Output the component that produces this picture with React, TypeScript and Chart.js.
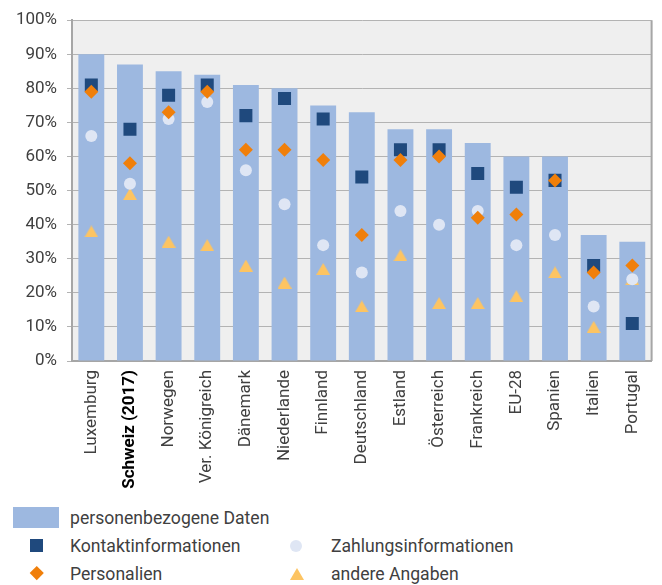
import React, { useEffect, useRef } from 'react';
import { Chart, registerables } from 'chart.js';

Chart.register(...registerables);

const categories = [
  'Luxemburg', 'Schweiz (2017)', 'Norwegen', 'Ver. Königreich', 'Dänemark',
  'Niederlande', 'Finnland', 'Deutschland', 'Estland', 'Österreich',
  'Frankreich', 'EU-28', 'Spanien', 'Italien', 'Portugal',
];
const personenbezogeneDaten = [90, 87, 85, 84, 81, 80, 75, 73, 68, 68, 64, 60, 60, 37, 35];
const kontaktinformationen = [81, 68, 78, 81, 72, 77, 71, 54, 62, 62, 55, 51, 53, 28, 11];
const zahlungsinformationen = [66, 52, 71, 76, 56, 46, 34, 26, 44, 40, 44, 34, 37, 16, 24];
const personalien = [79, 58, 73, 79, 62, 62, 59, 37, 59, 60, 42, 43, 53, 26, 28];
const andereAngaben = [38, 49, 35, 34, 28, 23, 27, 16, 31, 17, 17, 19, 26, 10, 24];
const yTickValues = [0, 10, 20, 30, 40, 50, 60, 70, 80, 90, 100];

const seriesNames = [
  'personenbezogene Daten',
  'Kontaktinformationen',
  'Zahlungsinformationen',
  'Personalien',
  'andere Angaben',
];

const C_BAR = '#9db8e0';
const C_SQUARE = '#1f497d';
const C_CIRCLE = '#dfe6f4';
const C_DIAMOND = '#f07f0a';
const C_TRIANGLE = '#fdc462';
const FONT = 'Roboto, "Noto Sans", sans-serif';

function makeTriangle(color: string) {
  const c = document.createElement('canvas');
  c.width = 14;
  c.height = 12;
  const ctx = c.getContext('2d')!;
  ctx.fillStyle = color;
  ctx.beginPath();
  ctx.moveTo(7, 0);
  ctx.lineTo(14, 12);
  ctx.lineTo(0, 12);
  ctx.closePath();
  ctx.fill();
  return c;
}

const bgPlugin = {
  id: 'plotBg',
  beforeDraw(chart: any) {
    const { ctx, chartArea } = chart;
    ctx.save();
    ctx.fillStyle = '#efefef';
    ctx.fillRect(chartArea.left, chartArea.top, chartArea.right - chartArea.left, chartArea.bottom - chartArea.top);
    ctx.restore();
  },
  beforeDatasetsDraw(chart: any) {
    const { ctx, chartArea } = chart;
    ctx.save();
    ctx.strokeStyle = '#a6a6a6';
    ctx.lineWidth = 2;
    ctx.beginPath();
    ctx.moveTo(chartArea.right, chartArea.top);
    ctx.lineTo(chartArea.right, chartArea.bottom);
    ctx.stroke();
    ctx.restore();
  },
};

export default function App() {
  const ref = useRef<HTMLCanvasElement | null>(null);

  useEffect(() => {
    if (!ref.current) return;
    const tri = makeTriangle(C_TRIANGLE);
    const chart = new Chart(ref.current, {
      type: 'bar',
      data: {
        labels: categories,
        datasets: [
          {
            type: 'bar',
            label: seriesNames[0],
            data: personenbezogeneDaten,
            backgroundColor: C_BAR,
            borderWidth: 0,
            barPercentage: 0.67,
            categoryPercentage: 1,
            order: 10,
          },
          {
            type: 'line',
            label: seriesNames[4],
            data: andereAngaben,
            showLine: false,
            pointStyle: tri,
            pointRadius: 8,
            pointBorderWidth: 0,
            pointBackgroundColor: C_TRIANGLE,
            order: 4,
          },
          {
            type: 'line',
            label: seriesNames[2],
            data: zahlungsinformationen,
            showLine: false,
            pointStyle: 'circle',
            pointRadius: 6,
            pointBorderWidth: 0,
            pointBackgroundColor: C_CIRCLE,
            order: 3,
          },
          {
            type: 'line',
            label: seriesNames[1],
            data: kontaktinformationen,
            showLine: false,
            pointStyle: 'rect',
            pointRadius: 9.2,
            pointBorderWidth: 0,
            pointBackgroundColor: C_SQUARE,
            order: 2,
          },
          {
            type: 'line',
            label: seriesNames[3],
            data: personalien,
            showLine: false,
            pointStyle: 'rectRot',
            pointRadius: 7,
            pointBorderWidth: 0,
            pointBackgroundColor: C_DIAMOND,
            order: 1,
          },
        ] as any,
      },
      options: {
        responsive: false,
        animation: false,
        devicePixelRatio: 1,
        layout: { padding: { top: 19, right: 8, left: 0, bottom: 0 } },
        plugins: {
          legend: { display: false },
          tooltip: { enabled: false },
        },
        scales: {
          x: {
            grid: { display: false, drawTicks: false },
            border: { display: true, color: '#a6a6a6', width: 2 },
            ticks: {
              autoSkip: false,
              minRotation: 90,
              maxRotation: 90,
              padding: 9,
              color: (ctx: any) => (ctx.index === 1 ? '#000000' : '#404040'),
              font: (ctx: any) => ({
                family: FONT,
                size: 17,
                weight: ctx.index === 1 ? 'bold' : 'normal',
              }),
            },
            afterFit: (s: any) => { s.height = 139; },
          },
          y: {
            min: 0,
            max: 100,
            afterBuildTicks: (s: any) => { s.ticks = yTickValues.map((v) => ({ value: v })); },
            grid: { color: '#b3b3b3', lineWidth: 1, drawTicks: true, tickLength: 5 },
            border: { display: true, color: '#a6a6a6', width: 2 },
            ticks: {
              padding: 10,
              color: '#404040',
              font: { family: FONT, size: 17 },
              callback: (v: any) => `${v}%`,
            },
            afterFit: (s: any) => { s.width = 72; },
          },
        },
      },
      plugins: [bgPlugin],
    });
    return () => chart.destroy();
  }, []);

  const textStyle: React.CSSProperties = {
    position: 'absolute',
    fontFamily: FONT,
    fontSize: 17.6,
    color: '#404040',
    lineHeight: '24px',
    height: 24,
    whiteSpace: 'nowrap',
  };

  return (
    <div style={{ position: 'absolute', left: 0, top: 0, width: 662, height: 585, background: '#ffffff' }}>
      <canvas ref={ref} width={662} height={500} style={{ display: 'block', width: 662, height: 500 }} />
      {/* legend */}
      <div style={{ position: 'absolute', left: 13, top: 507, width: 46, height: 21, background: C_BAR }} />
      <div style={{ ...textStyle, left: 70, top: 506 }}>{seriesNames[0]}</div>

      <div style={{ position: 'absolute', left: 30, top: 539, width: 13, height: 13, background: C_SQUARE }} />
      <div style={{ ...textStyle, left: 70, top: 534 }}>{seriesNames[1]}</div>

      <div style={{ position: 'absolute', left: 290, top: 540, width: 12, height: 12, borderRadius: 6, background: C_CIRCLE }} />
      <div style={{ ...textStyle, left: 331, top: 534 }}>{seriesNames[2]}</div>

      <div style={{ position: 'absolute', left: 32, top: 568, width: 9.5, height: 9.5, background: C_DIAMOND, transform: 'rotate(45deg)' }} />
      <div style={{ ...textStyle, left: 70, top: 562 }}>{seriesNames[3]}</div>

      <div style={{ position: 'absolute', left: 290, top: 568, width: 0, height: 0, borderLeft: '7px solid transparent', borderRight: '7px solid transparent', borderBottom: `12px solid ${C_TRIANGLE}` }} />
      <div style={{ ...textStyle, left: 331, top: 562 }}>{seriesNames[4]}</div>
    </div>
  );
}
